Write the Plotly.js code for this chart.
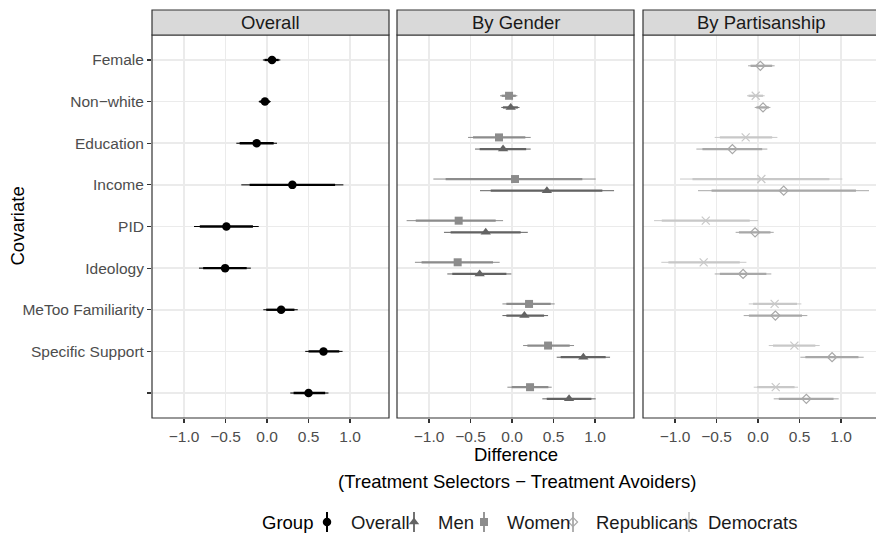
<!DOCTYPE html>
<html><head><meta charset="utf-8">
<script src="https://cdn.plot.ly/plotly-3.0.1.min.js"></script>
<style>html,body{margin:0;padding:0;background:#fff}#chart{width:876px;height:533px}</style>
</head><body><div id="chart"></div>
<script>
// ---------- data ----------
const covariates = ["Female","Non\u2212white","Education","Income","PID","Ideology","MeToo Familiarity","Specific Support",""];
const xTickVals = [-1,-0.5,0,0.5,1];
const xTickText = ["\u22121.0","\u22120.5","0.0","0.5","1.0"];
const panelTitles = ["Overall","By Gender","By Partisanship"];
const groupNames = ["Overall","Men","Women","Republicans","Democrats"];
const legendTitle = "Group";

const overallEst  = [0.06, -0.025, -0.125, 0.305, -0.49, -0.505, 0.17, 0.68, 0.50];
const overallLo95 = [-0.05, -0.10, -0.37, -0.31, -0.88, -0.82, -0.045, 0.46, 0.28];
const overallHi95 = [0.16, 0.045, 0.12, 0.92, -0.10, -0.195, 0.37, 0.91, 0.74];
const overallLo90 = [-0.03, -0.09, -0.33, -0.21, -0.81, -0.77, -0.01, 0.50, 0.32];
const overallHi90 = [0.14, 0.035, 0.08, 0.82, -0.17, -0.245, 0.33, 0.87, 0.70];

const menEst  = [null, -0.016, -0.108, 0.42, -0.317, -0.39, 0.149, 0.859, 0.687];
const menLo95 = [null, -0.13, -0.446, -0.386, -0.82, -0.78, -0.116, 0.538, 0.365];
const menHi95 = [null, 0.09, 0.225, 1.229, 0.19, -0.008, 0.434, 1.181, 1.008];
const menLo90 = [null, -0.11, -0.39, -0.257, -0.74, -0.72, -0.068, 0.586, 0.418];
const menHi90 = [null, 0.07, 0.17, 1.088, 0.104, -0.068, 0.386, 1.128, 0.956];

const womenEst  = [null, -0.036, -0.157, 0.036, -0.643, -0.655, 0.205, 0.434, 0.217];
const womenLo95 = [null, -0.145, -0.53, -0.948, -1.27, -1.17, -0.116, 0.133, -0.056];
const womenHi95 = [null, 0.064, 0.225, 1.008, -0.108, -0.149, 0.514, 0.747, 0.478];
const womenLo90 = [null, -0.125, -0.47, -0.80, -1.16, -1.09, -0.068, 0.185, -0.004];
const womenHi90 = [null, 0.045, 0.16, 0.847, -0.197, -0.229, 0.466, 0.695, 0.438];

const repEst  = [0.028, 0.06, -0.309, 0.309, -0.036, -0.18, 0.209, 0.892, 0.582];
const repLo95 = [-0.12, -0.04, -0.743, -0.723, -0.27, -0.522, -0.173, 0.51, 0.189];
const repHi95 = [0.20, 0.149, 0.112, 1.337, 0.189, 0.16, 0.594, 1.273, 0.972];
const repLo90 = [-0.09, -0.02, -0.67, -0.56, -0.23, -0.46, -0.11, 0.57, 0.25];
const repHi90 = [0.17, 0.13, 0.05, 1.18, 0.15, 0.10, 0.53, 1.21, 0.91];

const demEst  = [null, -0.028, -0.149, 0.04, -0.63, -0.655, 0.20, 0.438, 0.213];
const demLo95 = [null, -0.133, -0.522, -0.94, -1.253, -1.165, -0.112, 0.129, -0.052];
const demHi95 = [null, 0.08, 0.233, 1.016, 0.0, -0.14, 0.522, 0.743, 0.482];
const demLo90 = [null, -0.115, -0.46, -0.79, -1.16, -1.08, -0.06, 0.18, -0.01];
const demHi90 = [null, 0.06, 0.17, 0.86, -0.10, -0.22, 0.47, 0.69, 0.44];

// ---------- drawing ----------
const FONT = "Liberation Sans, Arial, Helvetica, sans-serif";
const W = 876, H = 533, ML = 152, MT = 35, PW = W - ML, PH = H - MT;
const panelBottom = 418, panelH = panelBottom - MT;
const PXU = 83; // pixels per unit of difference
const traces = [];
const cOverall='#000000', cMen='#636363', cWomen='#8c8c8c', cRep='#a8a8a8', cDem='#c8c8c8';
const markers = [
  {symbol:'circle', size:8.5, color:cOverall},
  {symbol:'triangle-up', size:9, color:cMen},
  {symbol:'square', size:8, color:cWomen},
  {symbol:'diamond-open', size:7, color:cRep, line:{width:1.2, color:cRep}},
  {symbol:'x-thin-open', size:8, color:cDem, line:{width:1.2, color:cDem}}
];
const colors = [cOverall, cMen, cWomen, cRep, cDem];

function addGroup(g, est, lo95, hi95, lo90, hi90, panel, offset){
  const idx = est.map((v,i)=>v===null?null:i).filter(i=>i!==null);
  const xs = idx.map(i=>est[i]);
  const ys = idx.map(i=>i+offset);
  const xa = panel===1?'x':'x'+panel, ya = panel===1?'y':'y'+panel;
  traces.push({type:'scatter', mode:'markers', x:xs, y:ys, xaxis:xa, yaxis:ya,
    marker:{size:1, opacity:0}, showlegend:false, hoverinfo:'skip',
    error_x:{type:'data', symmetric:false, array:idx.map(i=>hi95[i]-est[i]),
      arrayminus:idx.map(i=>est[i]-lo95[i]), width:0, thickness:1, color:colors[g]}});
  traces.push({type:'scatter', mode:'markers', name:groupNames[g], x:xs, y:ys, xaxis:xa, yaxis:ya,
    marker:markers[g], showlegend:false,
    error_x:{type:'data', symmetric:false, array:idx.map(i=>hi90[i]-est[i]),
      arrayminus:idx.map(i=>est[i]-lo90[i]), width:0, thickness:2.3, color:colors[g]}});
}
const OFF = 0.14;
addGroup(0, overallEst, overallLo95, overallHi95, overallLo90, overallHi90, 1, 0);
addGroup(1, menEst, menLo95, menHi95, menLo90, menHi90, 2, OFF);
addGroup(2, womenEst, womenLo95, womenHi95, womenLo90, womenHi90, 2, -OFF);
addGroup(3, repEst, repLo95, repHi95, repLo90, repHi90, 3, OFF);
addGroup(4, demEst, demLo95, demHi95, demLo90, demHi90, 3, -OFF);

// custom ggplot-style legend (pixel layout on an overlay axis)
const legendKeyX = [327, 414, 484, 573, 689];
const legendTextX = [349, 436, 505, 594, 706];
const legendTitleX = 260;
const legendMidFromBottom = 11;
groupNames.forEach((n,g)=>{
  traces.push({type:'scatter', mode:'markers', x:[legendKeyX[g]], y:[legendMidFromBottom],
    xaxis:'x4', yaxis:'y4', marker:markers[g], showlegend:false, hoverinfo:'skip',
    error_y:{type:'constant', value:10, width:0, thickness:g===0?2:1.8, color:colors[g]}});
});

const xr = [-1.386, -1.386 + 237/PXU];
const xr3 = [-1.386, -1.386 + 233/PXU];
const doms = [[0, 237/PW], [245/PW, 482/PW], [491/PW, 1]];
const yDom = [(H - panelBottom)/PH, 1];
const yr = [covariates.length - 1 + 0.6, -0.6];
const rowVals = covariates.map((c,i)=>i);

function xAxis(p){
  return {domain:doms[p-1], range:p===3?xr3:xr, anchor:p===1?'y':'y'+p,
    tickmode:'array', tickvals:xTickVals, ticktext:xTickText,
    ticks:'outside', ticklen:4, tickwidth:1.1, tickcolor:'#333333',
    tickfont:{family:FONT, size:15.5, color:'#4D4D4D'},
    showgrid:true, gridcolor:'#EBEBEB', gridwidth:1.5, zeroline:false, showline:false, fixedrange:true};
}
function yAxis(p){
  return {domain:yDom, range:yr, anchor:p===1?'x':'x'+p,
    tickmode:'array', tickvals:rowVals, ticktext:covariates,
    showticklabels:p===1, ticks:p===1?'outside':'', ticklen:4, tickwidth:1.1, tickcolor:'#333333',
    tickfont:{family:FONT, size:15.5, color:'#4D4D4D'},
    showgrid:true, gridcolor:'#EBEBEB', gridwidth:1.5, zeroline:false, showline:false, fixedrange:true};
}

const shapes = [], annotations = [];
const stripH = 25/panelH;
for(let p=1;p<=3;p++){
  const s = p===1?'':String(p);
  shapes.push({type:'line', layer:'below', xref:'x'+s, yref:'y'+s+' domain', x0:0, x1:0, y0:0, y1:1,
    line:{color:'#808080', width:1.1, dash:'5px,3px'}});
  shapes.push({type:'rect', xref:'x'+s+' domain', yref:'y'+s+' domain', x0:0, x1:p===3?1.03:1, y0:0, y1:1,
    line:{color:'#333333', width:1.2}, fillcolor:'rgba(0,0,0,0)'});
  shapes.push({type:'rect', xref:'x'+s+' domain', yref:'y'+s+' domain', x0:0, x1:p===3?1.03:1, y0:1, y1:1+stripH,
    line:{color:'#333333', width:1.2}, fillcolor:'#D9D9D9'});
  annotations.push({xref:'x'+s+' domain', yref:'y'+s+' domain', x:p===3?0.5*(1+4/233):0.5, y:1+stripH/2,
    text:panelTitles[p-1], showarrow:false, xanchor:'center', yanchor:'middle',
    font:{family:FONT, size:18.5, color:'#1A1A1A'}});
}
annotations.push({xref:'paper', yref:'y domain', x:(17-ML)/PW, y:0.5, text:'Covariate', textangle:-90,
  showarrow:false, xanchor:'center', yanchor:'middle', font:{family:FONT, size:18.5, color:'#000'}});
annotations.push({xref:'paper', yref:'y domain', x:(516-ML)/PW, y:(panelBottom-454)/panelH, text:'Difference',
  showarrow:false, xanchor:'center', yanchor:'middle', font:{family:FONT, size:18.5, color:'#000'}});
annotations.push({xref:'paper', yref:'y domain', x:(516.5-ML)/PW, y:(panelBottom-481)/panelH,
  text:'(Treatment Selectors \u2212 Treatment Avoiders)',
  showarrow:false, xanchor:'center', yanchor:'middle', font:{family:FONT, size:18.5, color:'#000'}});
annotations.push({xref:'x4', yref:'y4', x:legendTitleX, y:legendMidFromBottom, text:legendTitle,
  showarrow:false, xanchor:'left', yanchor:'middle', font:{family:FONT, size:18.5, color:'#000'}});
groupNames.forEach((n,g)=>{
  annotations.push({xref:'x4', yref:'y4', x:legendTextX[g], y:legendMidFromBottom, text:n,
    showarrow:false, xanchor:'left', yanchor:'middle', font:{family:FONT, size:18.5, color:'#1A1A1A'}});
});

const layout = {
  width:W, height:H, margin:{l:ML, r:0, t:MT, b:0, pad:0},
  paper_bgcolor:'#fff', plot_bgcolor:'#fff',
  font:{family:FONT, color:'#000'},
  xaxis:xAxis(1), xaxis2:xAxis(2), xaxis3:xAxis(3),
  yaxis:yAxis(1), yaxis2:yAxis(2), yaxis3:yAxis(3),
  xaxis4:{domain:[0,1], range:[ML, W], visible:false, fixedrange:true, anchor:'y4'},
  yaxis4:{domain:[0, 30/PH], range:[0, 30], visible:false, fixedrange:true, anchor:'x4'},
  shapes:shapes, annotations:annotations,
  showlegend:false,
  hovermode:false
};
Plotly.newPlot('chart', traces, layout, {displayModeBar:false, staticPlot:true});
</script></body></html>
